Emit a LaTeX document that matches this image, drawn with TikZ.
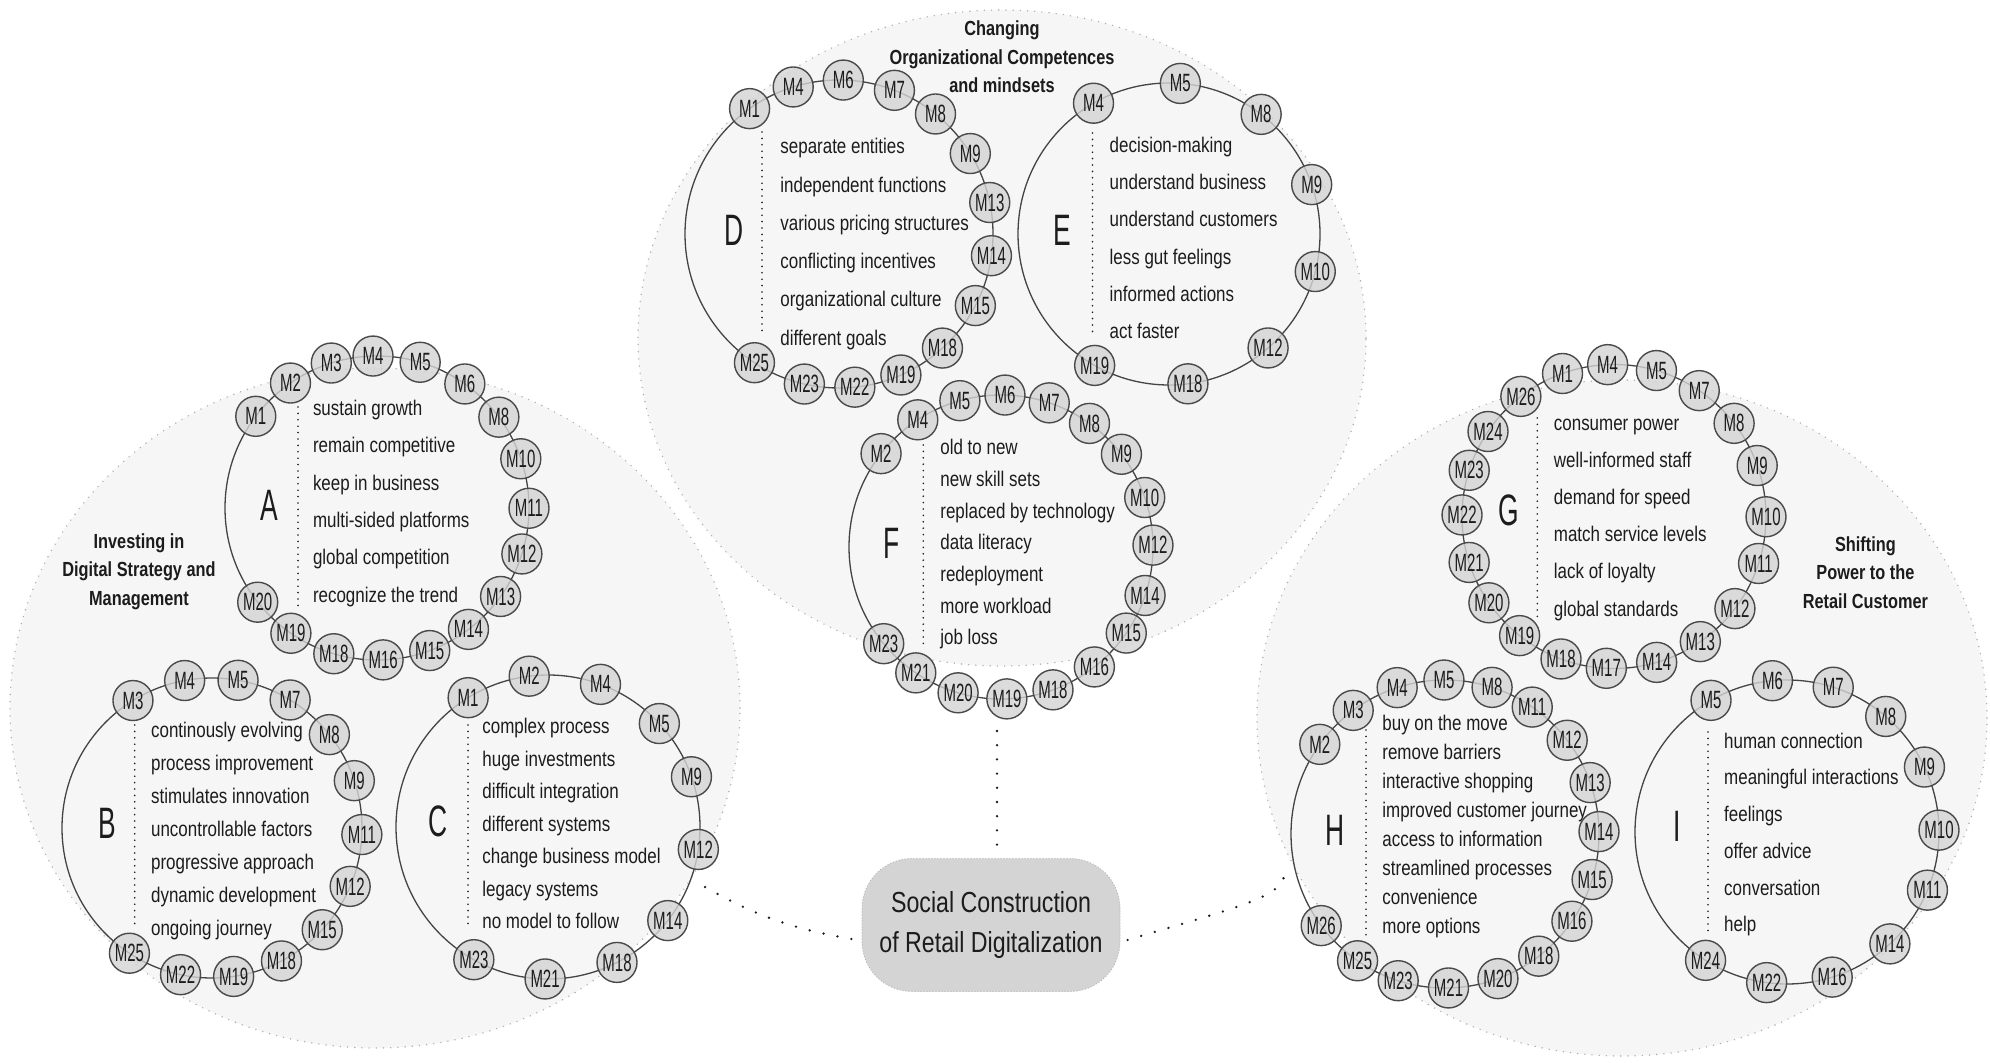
\documentclass[tikz,border=0pt]{standalone}
\usepackage{fontspec}
\setmainfont{Liberation Sans}[FakeStretch=0.8]
\newfontfamily\nfont{Liberation Sans}[FakeStretch=0.6]
\usetikzlibrary{calc}
\definecolor{bgc}{HTML}{F6F6F6}
\definecolor{nodefill}{HTML}{D3D4D3}
\definecolor{nodeline}{HTML}{4A4A4A}
\definecolor{ringc}{HTML}{444444}
\definecolor{dotc}{HTML}{B0B0B0}
\definecolor{txt}{HTML}{1C1C1C}
\tikzset{
 bgedge/.style={draw=dotc, line width=0.8pt, dash pattern=on 0pt off 3.6pt, line cap=round},
 ring/.style={draw=ringc, line width=0.65pt},
 mnode/.style={circle, draw=nodeline, line width=0.7pt, fill=nodefill, fill opacity=0.8, text opacity=1, minimum size=20pt, inner sep=0pt, font=\nfont\fontsize{12.5}{12.5}\selectfont, text=txt},
 item/.style={anchor=west, inner sep=0pt, font=\fontsize{10.6}{12}\selectfont, text=txt, text height=7.5pt, text depth=2pt},
 vdots/.style={draw=txt, line width=0.9pt, dash pattern=on 0pt off 3.2pt, line cap=round},
 bigl/.style={font=\nfont\fontsize{22}{22}\selectfont, text=txt, inner sep=0pt},
 ttl/.style={align=center, font=\bfseries\fontsize{10.2}{14.3}\selectfont, text=txt, inner sep=0pt},
 conn/.style={draw=txt, line width=1.3pt, dash pattern=on 0pt off 7.1pt, line cap=round},
 core/.style={rounded corners=25pt, fill=nodefill, draw=dotc, dash pattern=on 0pt off 1.5pt, line cap=round, line width=0.6pt, minimum width=129pt, minimum height=66.5pt, align=center, font=\fontsize{14.5}{20}\selectfont, text=txt},
}
\newcommand\mgroup[4]{\foreach \lab/\ang in {#4}{\node[mnode] (#1-\lab) at ($(#2)+(\ang:#3)$) {\lab};}}
\newcommand\itemlist[5]{\foreach \t [count=\i] in {#5}{\node[item] (#1-t\i) at ({#2},{#3+(\i-1)*#4}) {\t};}}
\begin{document}
\begin{tikzpicture}[x=0.5pt,y=-0.5pt]
\useasboundingbox (0,0) rectangle (1990,1063);
\fill[white] (0,0) rectangle (1990,1063);
% background regions
\fill[bgc] (375,708) ellipse [x radius=182.5pt, y radius=170pt];
\fill[bgc] (1002,338) ellipse [x radius=182pt, y radius=164pt];
\fill[bgc] (1622,718) ellipse [x radius=182.5pt, y radius=169pt];
\draw[bgedge] (375,708) ellipse [x radius=182.5pt, y radius=170pt];
\draw[bgedge] (1002,338) ellipse [x radius=182pt, y radius=164pt];
\draw[bgedge] (1622,718) ellipse [x radius=182.5pt, y radius=169pt];
% group centres
\coordinate (Ac) at (377,508);
\coordinate (Bc) at (212,828);
\coordinate (Cc) at (548,827);
\coordinate (Dc) at (839,234);
\coordinate (Ec) at (1169,234);
\coordinate (Fc) at (1001,547);
\coordinate (Gc) at (1614,516.5);
\coordinate (Hc) at (1445,834);
\coordinate (Ic) at (1787,832);
% rings
\draw[ring] (Ac) circle [radius=76pt];
\draw[ring] (Bc) circle [radius=75pt];
\draw[ring] (Cc) circle [radius=76pt];
\draw[ring] (Dc) circle [radius=77pt];
\draw[ring] (Ec) circle [radius=75.5pt];
\draw[ring] (Fc) circle [radius=76pt];
\draw[ring] (Gc) circle [radius=76pt];
\draw[ring] (Hc) circle [radius=77pt];
\draw[ring] (Ic) circle [radius=76pt];
% vertical dotted lines
\draw[vdots] (298,407) -- (298,610);
\draw[vdots] (134.7,725) -- (134.7,927);
\draw[vdots] (468,725) -- (468,928);
\draw[vdots] (762,132) -- (762,333);
\draw[vdots] (1092.5,133) -- (1092.5,333);
\draw[vdots] (923.3,445) -- (923.3,648);
\draw[vdots] (1537.3,418) -- (1537.3,620);
\draw[vdots] (1366,730) -- (1366,937);
\draw[vdots] (1708,732) -- (1708,933);
% item lists
\itemlist{A}{312.6}{410}{37.3}{sustain growth, remain competitive, keep in business, multi-sided platforms, global competition, recognize the trend}
\itemlist{B}{150.7}{731.7}{33.05}{continously evolving, process improvement, stimulates innovation, uncontrollable factors, progressive approach, dynamic development, ongoing journey}
\itemlist{C}{482}{728.3}{32.5}{complex process, huge investments, difficult integration, different systems, change business model, legacy systems, no model to follow}
\itemlist{D}{780}{148.3}{38.3}{separate entities, independent functions, various pricing structures, conflicting incentives, organizational culture, different goals}
\itemlist{E}{1109.3}{146.7}{37.3}{decision-making, understand business, understand customers, less gut feelings, informed actions, act faster}
\itemlist{F}{940}{449.3}{31.67}{old to new, new skill sets, replaced by technology, data literacy, redeployment, more workload, job loss}
\itemlist{G}{1553.5}{425}{37.1}{consumer power, well-informed staff, demand for speed, match service levels, lack of loyalty, global standards}
\itemlist{H}{1382}{725}{29.05}{buy on the move, remove barriers, interactive shopping, improved customer journey, access to information, streamlined processes, convenience, more options}
\itemlist{I}{1723.8}{742.7}{36.7}{human connection, meaningful interactions, feelings, offer advice, conversation, help}
% big letters
\node[bigl] (A-L) at (269,505) {A};
\node[bigl] (B-L) at (107.4,823.3) {B};
\node[bigl] (C-L) at (437.7,821.7) {C};
\node[bigl] (D-L) at (733.9,230) {D};
\node[bigl] (E-L) at (1062,230) {E};
\node[bigl] (F-L) at (891.7,543.3) {F};
\node[bigl] (G-L) at (1508.4,510) {G};
\node[bigl] (H-L) at (1335.3,830) {H};
\node[bigl] (I-L) at (1677.6,826.7) {I};
% M nodes
\mgroup{A}{Ac}{152}{M1/217.1, M2/235.3, M3/252.5, M4/268.5, M5/286.5, M6/305.3, M8/323.3, M10/341.1, M11/0.1, M12/17.6, M13/35.6, M14/53.0, M15/69.7, M16/87.7, M18/106.5, M19/124.5, M20/141.7}
\mgroup{B}{Bc}{150}{M3/238.2, M4/259.5, M5/280, M7/301.4, M8/321.5, M9/341.6, M11/2.5, M12/22.9, M15/42.7, M18/62.4, M19/81.7, M22/102.1, M25/123.4}
\mgroup{C}{Cc}{152}{M1/238.3, M2/262.9, M4/290.2, M5/317.1, M9/340.7, M12/8.5, M14/38, M18/63, M21/91.1, M23/119.2}
\mgroup{D}{Dc}{154}{M1/234.5, M4/252.7, M6/271.6, M7/291.1, M8/308.8, M9/328.5, M13/348.2, M14/8.1, M15/27.7, M18/47.8, M19/66.3, M22/84.1, M23/103, M25/123.3}
\mgroup{E}{Ec}{151}{M4/240, M5/274.3, M8/307.6, M9/340.9, M10/14.4, M12/49, M18/82.8, M19/119.5}
\mgroup{F}{Fc}{152}{M2/217.9, M4/236.8, M5/254.3, M6/271.5, M7/288.5, M8/305.6, M9/322.4, M10/341, M12/359.3, M14/18.6, M15/34.5, M16/52.1, M18/70, M19/87.8, M20/106.4, M21/124.1, M23/140.5}
\mgroup{G}{Gc}{152}{M1/250.2, M4/267.6, M5/286.2, M7/304.1, M8/322.2, M9/340.4, M10/0.1, M11/18, M12/37.3, M13/55.4, M14/73.7, M17/92.9, M18/110.4, M19/128.4, M20/145.4, M21/162.4, M22/180.6, M23/197.7, M24/214, M26/232.2}
\mgroup{H}{Hc}{154}{M2/215.6, M3/233.4, M4/251.9, M5/269.6, M8/287.8, M11/304.5, M12/322.5, M13/340.5, M14/359.1, M15/17.2, M16/34.5, M18/52.5, M20/69.9, M21/88.7, M23/107.7, M25/124.6, M26/143.5}
\mgroup{I}{Ic}{152}{M5/240, M6/264.5, M7/287.7, M8/310.5, M9/334.7, M10/359.3, M11/22.5, M14/47.4, M16/72.7, M22/97.7, M24/122.4}
% titles
\node[ttl] (tA) at (139,571.7) {Investing in\\Digital Strategy and\\Management};
\node[ttl] (tD) at (1002,57) {Changing\\Organizational Competences\\and mindsets};
\node[ttl] (tG) at (1865.4,572.5) {Shifting\\Power to the\\Retail Customer};
% core
\node[core] (cen) at (991,925) {Social Construction\\of Retail Digitalization};
\coordinate (topend) at (997,731);
\coordinate (leftend) at (698,883);
\coordinate (rightend) at (1285,872);
\draw[conn, shorten >=6pt] (topend) -- (topend |- cen.north);
\draw[conn] ([xshift=-5pt,yshift=-7pt]cen.west) to[bend left=10] (leftend);
\draw[conn] ([xshift=3.5pt,yshift=-7.5pt]cen.east) .. controls (1245,905) and (1283,897) .. (rightend);
\end{tikzpicture}
\end{document}
